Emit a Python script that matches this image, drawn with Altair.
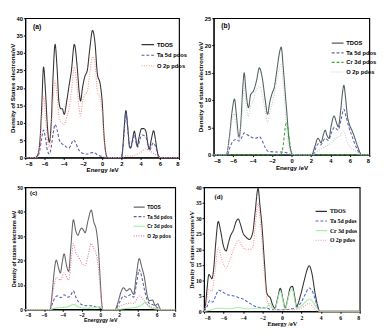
import altair as alt
import pandas as pd

# ---------------- data (energy eV, DOS states/eV) ----------------
# Panel (a)
a_tdos_E = [-8,-7,-6.75,-6.5,-6.3,-6.1,-5.9,-5.7,-5.5,-5.3,-5.1,-4.9,-4.7,-4.5,-4.3,-4.15,-3.95,-3.7,-3.45,-3.2,-2.9,-2.6,-2.4,-2.25,-2.05,-1.8,-1.55,-1.3,-1.0,-0.75,-0.5,-0.2,0,0.2,0.4,0.55,2.0,2.15,2.3,2.47,2.65,2.85,2.95,3.15,3.35,3.5,3.65,3.85,4.1,4.35,4.55,4.75,4.9,5.1,5.35,5.55,5.75,5.95,6.1,8]
a_tdos_V = [0,0,0.5,4,14,26,19,9,4.4,10,24,32.5,26,16,14,14,12.4,16,20.6,25,32.5,26,19,16.2,20,23.3,25,31,36.5,33,24,21,16,6,1,0,0,3,9,13.5,9,3,2.8,5,7.6,5.5,3.3,6,8.3,8.3,7.5,4,2.4,5,7.7,5,1.5,0.2,0,0]
a_ta_E = [-8,-6.8,-6.5,-6.3,-6.1,-5.9,-5.7,-5.5,-5.3,-5.1,-4.9,-4.7,-4.45,-4.2,-3.95,-3.7,-3.45,-3.2,-3.0,-2.8,-2.5,-2.2,-2.0,-1.5,-1.2,-0.9,-0.5,0,0.5,2.0,2.2,2.47,2.7,2.95,3.15,3.37,3.55,3.7,3.9,4.17,4.4,4.6,4.8,4.95,5.15,5.35,5.6,5.85,6,8]
a_ta_V = [0,0,2,5.5,7.9,5.5,2,1,3,7,9.5,8,5,4,3.6,3,2.7,4,5,4.5,2.5,1.5,1.2,1,1.3,1.5,0.8,0.3,0,0,4,12.8,7,2.5,4.5,6.5,4,3,5,6.5,6.2,5.5,3,2,3.5,4.2,2.8,0.3,0,0]
a_o_E = [-8,-6.8,-6.5,-6.3,-6.1,-5.9,-5.7,-5.5,-5.3,-5.1,-4.9,-4.7,-4.45,-4.2,-3.95,-3.7,-3.45,-3.2,-2.9,-2.6,-2.4,-2.25,-2.05,-1.8,-1.55,-1.3,-1.0,-0.75,-0.5,-0.2,0,0.2,0.4,0.55,2.0,2.5,3.0,3.5,4.0,4.5,5.0,5.5,5.9,6.1,8]
a_o_V = [0,0,3,11,17.4,12,5,3,8,17,22,18,11,10,9.5,11.5,14,19,26,20,14,12,16,18,19,24,29,27,19,17,13,5,1,0,0,0.5,0.4,0.8,1.5,2.5,1.8,1,0.2,0,0]

# Panel (b)
b_tdos_E = [-8,-6.7,-6.4,-6.1,-5.86,-5.65,-5.45,-5.38,-5.2,-5.0,-4.86,-4.7,-4.5,-4.42,-4.2,-3.9,-3.6,-3.3,-3.0,-2.7,-2.46,-2.25,-2.0,-1.76,-1.5,-1.2,-1.06,-0.85,-0.64,-0.45,-0.32,-0.1,0.15,2.1,2.4,2.72,3.04,3.25,3.46,3.65,3.84,4.1,4.38,4.6,4.8,5.05,5.25,5.38,5.55,5.75,5.92,6.2,6.4,6.8,7.2,8]
b_tdos_V = [0,0,3,8,10.2,7,3.5,3.2,6,12.5,15,12,9,8.6,11,11.7,13.5,15.9,14,10,7.4,9.5,11.2,12.4,15.5,19,19.7,16,11.2,7,3.9,1,0,0,1.5,3,2.2,3.5,4.5,3.5,3,5.5,7.1,6,5.1,8,11.5,12.7,10.5,7,5.7,4.5,3.6,1.5,0,0]
b_ta_E = [-8,-6.6,-6.3,-6.0,-5.7,-5.4,-5.1,-4.86,-4.5,-4.1,-3.7,-3.3,-3.0,-2.7,-2.4,-1.5,-1.0,-0.4,0,2.2,2.5,2.75,3.0,3.45,3.8,4.1,4.4,4.8,5.1,5.38,5.6,5.9,6.2,6.45,6.8,7.1,8]
b_ta_V = [0,0,1.5,2.5,2.8,2.5,3.2,4,3.6,3.2,3.0,3.3,2.5,1.3,0.6,0.5,0.5,0.3,0,0,1.2,2,1.8,3,2.6,4,5,4.5,6.5,8.3,7,5,3.5,2.2,0.8,0,0]
b_cr_E = [-8,-1.2,-1.0,-0.8,-0.6,-0.48,-0.3,-0.1,0.1,8]
b_cr_V = [0,0,0.3,2.5,5.5,6,4,1,0,0]
b_o_E = [-8,-6.7,-6.4,-6.1,-5.9,-5.65,-5.4,-5.1,-4.86,-4.65,-4.45,-4.2,-3.9,-3.6,-3.3,-3.0,-2.7,-2.46,-2.2,-1.9,-1.6,-1.3,-1.06,-0.85,-0.64,-0.4,-0.15,0.15,2.2,2.8,3.5,4.0,4.5,5.0,5.35,5.7,6.0,6.5,7,8]
b_o_V = [0,0,2.5,6.5,7.5,5,2.5,7,12.5,9,7,9,10,12,12.5,11,8,5.8,8,10,12.5,15.5,16.5,13,8,3,0.6,0,0,0.8,1.5,2,3,3.5,4.3,2.5,1.5,0.8,0,0]

# Panel (c)
c_tdos_E = [-8,-5.35,-5.1,-4.9,-4.69,-4.45,-4.26,-4.05,-3.86,-3.6,-3.37,-3.15,-2.87,-2.6,-2.38,-2.15,-1.98,-1.8,-1.62,-1.3,-0.96,-0.7,-0.4,-0.2,0,0.15,0.26,1.58,1.9,2.2,2.48,2.8,3.17,3.56,3.85,4.16,4.45,4.72,4.95,5.21,5.58,5.87,6.14,6.3,6.44,8]
c_tdos_V = [0,0,8,16,20.2,17,14.9,19.5,22.8,18,15.5,25,36.7,32,30.4,32.5,33.3,32.5,31.4,36.5,40.7,36,32,25,12,3,0,0,3,7,8.9,7.6,8.5,6.2,14,20.8,17,12.9,7,3.6,3.8,1.6,2.3,1,0,0]
c_ta_E = [-8,-5.35,-5.1,-4.8,-4.5,-4.2,-3.86,-3.5,-3.2,-2.87,-2.6,-2.3,-2.0,-1.5,-1.0,-0.5,0,0.3,1.6,2.0,2.5,2.8,3.2,3.56,3.85,4.16,4.45,4.72,5.0,5.21,5.58,6.0,6.4,8]
c_ta_V = [0,0,2.5,5,5.6,4.8,6,5,5.5,7.6,5,3,2,1.5,1.5,1,0.5,0,0,2.5,5.5,5,6,5,10,16.2,13,8,4,2.5,2,1,0,0]
c_cr_E = [-8,-5.35,-4.8,-4.0,-3.5,-2.87,-2.3,-1.5,-0.5,0,0.3,1.6,3.0,4.0,4.5,4.8,5.1,5.5,6.4,8]
c_cr_V = [0,0,0.5,0.8,1,2,1,0.5,0.8,1.2,0,0,0.5,1,2,3,1.5,0.5,0,0]
c_o_E = [-8,-5.35,-5.1,-4.8,-4.69,-4.26,-3.86,-3.37,-3.1,-2.87,-2.6,-2.38,-2.0,-1.62,-1.3,-0.96,-0.7,-0.4,-0.2,0,0.15,0.26,1.6,2.0,2.48,3.0,3.56,4.16,4.6,5.0,5.5,6.4,8]
c_o_V = [0,0,6,12,13,12,15,12,20,27,23,22,19,18,22,27,25,22,17,8,2,0,0,1,2,2.5,2.5,5.5,4,2,1,0,0]

# Panel (d)
d_tdos_E = [-8,-7.85,-7.7,-7.5,-7.3,-7.2,-7.0,-6.8,-6.54,-6.3,-6.0,-5.73,-5.5,-5.3,-4.97,-4.7,-4.48,-4.25,-4.0,-3.7,-3.34,-3.0,-2.75,-2.45,-2.25,-2.03,-1.8,-1.54,-1.35,-1.21,-1.0,-0.72,-0.45,-0.16,0.1,0.33,0.6,0.85,1.08,1.3,1.5,1.9,2.3,2.6,2.81,3.1,3.4,3.7,3.86,8]
d_tdos_V = [0,2,7,11.9,11,10.5,14,22,29,26,21,19.5,22,24.2,26.3,29,29.8,28,25.3,24,23.2,25.3,32,39.7,34,26.8,16,5.8,4.8,4.5,2.5,1,4,7.4,4,1,4,7.5,8.1,5,1.6,5,10,13.5,14.7,12,6,1.5,0,0]
d_ta_E = [-8,-7.7,-7.4,-7.1,-6.8,-6.5,-6.1,-5.5,-5.0,-4.5,-4.0,-3.5,-3.0,-2.45,-2.0,-1.5,-1.0,0,1.0,1.5,2.0,2.4,2.8,3.2,3.6,3.9,8]
d_ta_V = [0,1.5,3.5,3,5,6.8,6.2,5.3,5,4.5,4,3,2,1.3,1.2,1,0.5,0.5,0.8,1.2,3,5.5,7.5,6,2,0,0]
d_cr_E = [-8,-7.5,-6.5,-5.5,-4.5,-3.5,-2.45,-1.8,-1.5,-1.21,-1.0,-0.72,-0.45,-0.16,0.1,0.33,0.6,0.85,1.08,1.3,1.5,1.9,2.4,2.81,3.2,3.6,3.9,8]
d_cr_V = [0,0.3,1,0.8,1.2,0.8,1,1,1.5,2.6,1.5,0.5,3.5,6.5,3.5,0.5,3.5,6.5,7,4,1,1.5,3,4,3,1,0,0]
d_o_E = [-8,-7.8,-7.5,-7.2,-6.9,-6.54,-6.2,-5.73,-5.3,-4.97,-4.48,-4.1,-3.7,-3.34,-3.0,-2.75,-2.45,-2.25,-2.03,-1.8,-1.54,-1.2,-0.5,0,1.0,2.0,2.81,3.3,3.7,8]
d_o_V = [0,2,7,6.5,12,20.5,17,14,17,20,23,21,20,20,20.5,27,35,30,22,12,4,1.5,0.5,0.5,0.5,1,2.5,1,0,0]

x_ticks = [-8, -6, -4, -2, 0, 2, 4, 6, 8]


def panel(series, ymax, ystep, w, h, xtitle, ytitle, font, tag, tagxy,
          legxy, symsize, fs=6):
    rows = []
    names, colors, dashes = [], [], []
    for name, E, V, col, dash in series:
        names.append(name); colors.append(col); dashes.append(dash)
        for e, v in zip(E, V):
            rows.append({"E": e, "v": v, "s": name})
    df = pd.DataFrame(rows)
    leg = alt.Legend(title=None, orient="none", legendX=legxy[0], legendY=legxy[1],
                     symbolType="stroke", symbolSize=symsize, symbolStrokeWidth=1.2,
                     labelFontSize=fs, labelFont=font, labelFontWeight="bold",
                     rowPadding=0, labelOffset=2, padding=0, labelColor="black")
    axis_common = dict(labelFont=font, labelFontSize=fs, labelFontWeight="bold",
                       titleFont=font, titleFontWeight="bold", titleFontSize=fs + 0.5,
                       tickSize=2, labelPadding=1, titlePadding=1, grid=False,
                       domainColor="black", tickColor="black", labelColor="black",
                       titleColor="black")
    lines = alt.Chart(df).mark_line(interpolate="monotone", strokeWidth=1.1).encode(
        x=alt.X("E:Q", scale=alt.Scale(domain=[-8, 8], nice=False),
                axis=alt.Axis(values=x_ticks, title=xtitle, **axis_common)),
        y=alt.Y("v:Q", scale=alt.Scale(domain=[0, ymax], nice=False),
                axis=alt.Axis(values=list(range(0, ymax + 1, ystep)), title=ytitle,
                              **axis_common)),
        color=alt.Color("s:N", scale=alt.Scale(domain=names, range=colors), legend=leg),
        strokeDash=alt.StrokeDash("s:N", scale=alt.Scale(domain=names, range=dashes), legend=leg),
        detail="s:N",
    )
    label = alt.Chart(pd.DataFrame({"t": [tag]})).mark_text(
        font=font, fontSize=fs + 1, fontWeight="bold", align="left", baseline="top",
        color="black").encode(x=alt.value(tagxy[0]), y=alt.value(tagxy[1]), text="t:N")
    return alt.layer(lines, label).properties(width=w, height=h)


SOLID = [1, 0]
DASH = [3, 2]
DOT = [1, 1.5]

pa = panel([
    ("TDOS", a_tdos_E, a_tdos_V, "#333333", SOLID),
    ("Ta 5d pdos", a_ta_E, a_ta_V, "#5a5aaa", DASH),
    ("O  2p pdos", a_o_E, a_o_V, "#ff8a8a", DOT),
], 40, 5, 160, 145, "Energy /eV", "Density of States electrons/eV",
    "Liberation Sans", "(a)", (8, 5), (120, 20), 170)

pb = panel([
    ("TDOS", b_tdos_E, b_tdos_V, "#506060", SOLID),
    ("Ta 5d pdos", b_ta_E, b_ta_V, "#6060b0", DASH),
    ("Cr 3d pdos", b_cr_E, b_cr_V, "#33aa33", DASH),
    ("O 2p pdos", b_o_E, b_o_V, "#c8c8c8", DOT),
], 25, 5, 162, 142, "Energy /eV", "Density of states electrons /eV",
    "Liberation Sans", "(b)", (8, 4), (122, 19), 150)

pc = panel([
    ("TDOS", c_tdos_E, c_tdos_V, "#666666", SOLID),
    ("Ta 5d pdos", c_ta_E, c_ta_V, "#5a5aaa", DASH),
    ("Cr 3d pdos", c_cr_E, c_cr_V, "#99ee99", SOLID),
    ("O  2p pdos", c_o_E, c_o_V, "#dd7799", DOT),
], 50, 10, 156, 127, "Energygy /eV", "Density of states electrons /eV",
    "Liberation Sans", "(c)", (5, 3), (112, 14), 130, fs=5)

pd_ = panel([
    ("TDOS", d_tdos_E, d_tdos_V, "#333333", SOLID),
    ("Ta 5d pdos", d_ta_E, d_ta_V, "#4466cc", DASH),
    ("Cr 3d pdos", d_cr_E, d_cr_V, "#aaeeaa", SOLID),
    ("O  2p pdos", d_o_E, d_o_V, "#ff9090", DOT),
], 40, 5, 162, 129, "Energy /eV", "Density of states electrons/eV",
    "Liberation Serif", "(d)", (11, 6), (115, 18), 140)

row1 = alt.hconcat(pa, pb, spacing=8).resolve_scale(color="independent", strokeDash="independent")
row2 = alt.hconcat(pc, pd_, spacing=10).resolve_scale(color="independent", strokeDash="independent")
chart = alt.vconcat(row1, row2, spacing=9).resolve_scale(
    color="independent", strokeDash="independent"
).properties(padding=0).configure_view(stroke="black", strokeWidth=1.2)

chart.save("out.html", embed_options={"renderer": "svg", "actions": False})
